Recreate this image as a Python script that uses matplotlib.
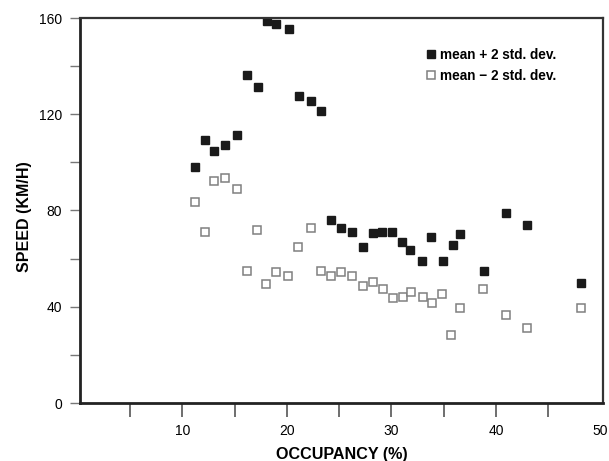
import matplotlib
matplotlib.use("Agg")
import matplotlib.pyplot as plt
from matplotlib.ticker import MultipleLocator

plt.rcParams['font.family'] = ['Liberation Sans', 'DejaVu Sans']

# Data
occ_plus = [11.2, 12.2, 13.0, 14.1, 15.2, 16.2, 17.2, 18.1, 19.0, 20.2, 21.2, 22.3, 23.3,
            24.2, 25.2, 26.2, 27.3, 28.2, 29.1, 30.1, 31.0, 31.8, 32.9, 33.8, 34.9, 35.9,
            36.6, 38.9, 41.0, 43.0, 48.1]
speed_plus = [98.2, 109.3, 104.9, 107.2, 111.4, 136.2, 131.2, 158.6, 157.5, 155.3, 127.7, 125.5, 121.4,
              76.1, 72.6, 71.2, 65.0, 70.5, 71.1, 71.1, 67.0, 63.6, 59.1, 69.1, 59.1, 65.7,
              70.2, 55.0, 78.8, 73.9, 49.8]

occ_minus = [11.2, 12.2, 13.0, 14.1, 15.2, 16.2, 17.1, 18.0, 19.0, 20.1, 21.1, 22.3, 23.3,
             24.2, 25.2, 26.2, 27.3, 28.2, 29.2, 30.2, 31.1, 31.9, 33.0, 33.9, 34.8, 35.7,
             36.6, 38.8, 41.0, 43.0, 48.1]
speed_minus = [83.4, 71.2, 92.4, 93.6, 88.9, 55.0, 71.9, 49.3, 54.6, 52.9, 65.0, 72.6, 55.0,
               52.9, 54.3, 52.9, 48.6, 50.4, 47.3, 43.5, 44.2, 46.0, 43.9, 41.4, 45.2, 28.3,
               39.4, 47.3, 36.6, 31.0, 39.4]

label_plus = "mean + 2 std. dev."
label_minus = "mean \u2212 2 std. dev."
x_label = "OCCUPANCY (%)"
y_label = "SPEED (KM/H)"

fig = plt.figure(figsize=(6.09, 4.61), dpi=100)
ax = fig.add_axes([80/609, 1 - 403/461, 523/609, 385/461])

ax.plot(occ_plus, speed_plus, linestyle='none', marker='s', markersize=6,
        markerfacecolor='#1a1a1a', markeredgecolor='#1a1a1a', label=label_plus)
ax.plot(occ_minus, speed_minus, linestyle='none', marker='s', markersize=6.3,
        markerfacecolor='white', markeredgecolor='#808080', markeredgewidth=1.1, label=label_minus)

ax.set_xlim(0.2, 50.25)
ax.set_ylim(0, 160)

ax.xaxis.set_minor_locator(MultipleLocator(5))
ax.yaxis.set_major_locator(MultipleLocator(40))
ax.yaxis.set_minor_locator(MultipleLocator(20))
ax.set_xticks([10, 20, 30, 40, 50])
ax.set_xticklabels(['10', '20', '30', '40', '50'])

ax.tick_params(axis='x', which='both', direction='out', length=10, width=1.2,
               color='#555555', labelsize=10, pad=5)
ax.tick_params(axis='y', which='both', direction='out', length=7, width=1.0,
               color='#777777', labelsize=10, pad=6)
for t in ax.xaxis.get_major_ticks():
    if abs(t.get_loc() - 50) < 1e-6:
        t.tick1line.set_visible(False)

for side in ['left', 'bottom']:
    ax.spines[side].set_linewidth(2.0)
    ax.spines[side].set_color('#222222')
for side in ['top', 'right']:
    ax.spines[side].set_linewidth(1.6)
    ax.spines[side].set_color('#333333')

ax.set_xlabel(x_label, fontsize=11.6, fontweight='bold', labelpad=6.5)
ax.set_ylabel(y_label, fontsize=11.5, fontweight='bold')
ax.yaxis.set_label_coords(-0.092, 0.483)

leg = ax.legend(loc='upper left', bbox_to_anchor=(0.65, 0.937), frameon=False,
                handlelength=0.8, handletextpad=0.3, labelspacing=0.55,
                prop={'weight': 'bold', 'size': 9.8}, borderaxespad=0)

fig.savefig('out.png', dpi=100)
